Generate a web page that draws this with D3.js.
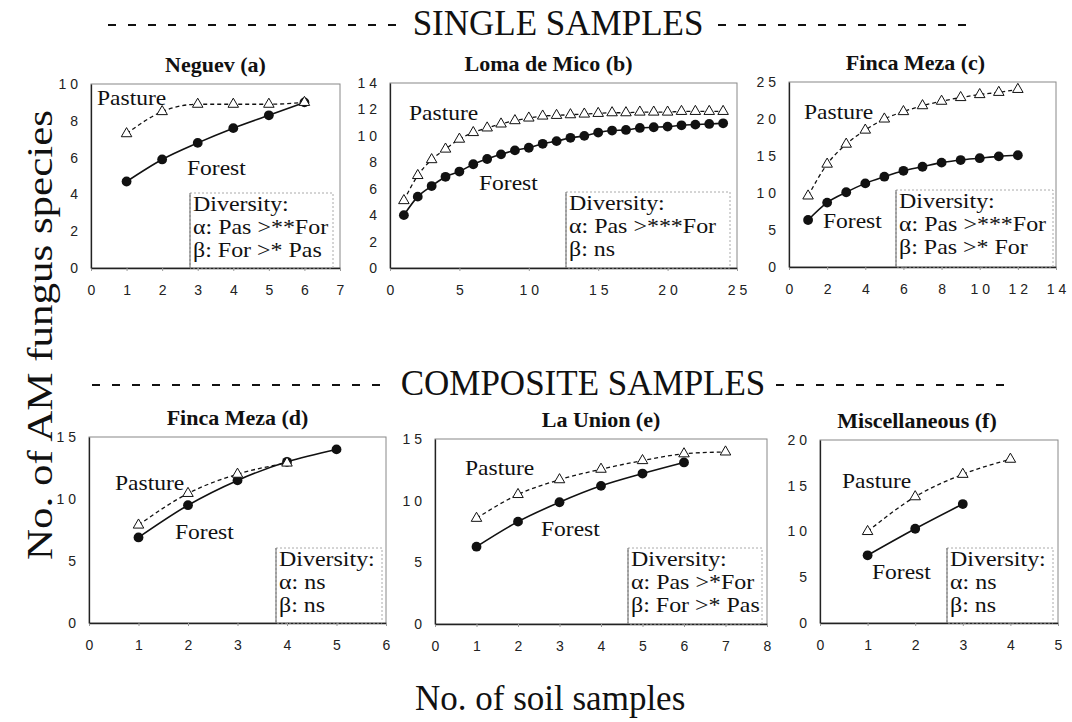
<!DOCTYPE html>
<meta charset="utf-8">
<style>
  body{margin:0;background:#fff;}
  svg text{fill:#111;}
  .tick text{font-family:"Liberation Sans",Arial,sans-serif;font-size:14px;letter-spacing:4px;fill:#222;}
  .lbl{font-family:"Liberation Serif","Times New Roman",Times,serif;}
</style>
<script src="https://cdn.jsdelivr.net/npm/d3@7/dist/d3.min.js"></script>
<body>
<svg id="chart" width="1072" height="722"></svg>
<script>
// ---- data ----
const titles = ["Neguev (a)", "Loma de Mico (b)", "Finca Meza (c)", "Finca Meza (d)", "La Union (e)", "Miscellaneous (f)"];
const xMax = [7, 25, 14, 6, 8, 5];
const yMax = [10, 14, 25, 15, 15, 20];
const xTicks = [[0,1,2,3,4,5,6,7], [0,5,10,15,20,25], [0,2,4,6,8,10,12,14], [0,1,2,3,4,5,6], [0,1,2,3,4,5,6,7,8], [0,1,2,3,4,5]];
const yTicks = [[0,2,4,6,8,10], [0,2,4,6,8,10,12,14], [0,5,10,15,20,25], [0,5,10,15], [0,5,10,15], [0,5,10,15,20]];

const aX = [1,2,3,4,5,6];
const aForest = [4.7, 5.9, 6.8, 7.6, 8.3, 9.0];
const aPasture = [7.3, 8.5, 8.9, 8.9, 8.9, 9.0];

const bX = [1,2,3,4,5,6,7,8,9,10,11,12,13,14,15,16,17,18,19,20,21,22,23,24];
const bForest = [4.0,5.4,6.2,6.9,7.3,7.85,8.25,8.6,8.9,9.1,9.4,9.6,9.85,10.0,10.25,10.4,10.45,10.6,10.65,10.7,10.8,10.85,10.9,10.95];
const bPasture = [5.1,7.0,8.2,9.0,9.75,10.25,10.6,10.9,11.15,11.35,11.5,11.55,11.6,11.65,11.7,11.75,11.75,11.8,11.8,11.8,11.85,11.85,11.85,11.85];

const cX = [1,2,3,4,5,6,7,8,9,10,11,12];
const cForest = [6.35,8.7,10.1,11.3,12.2,13.0,13.55,14.1,14.45,14.7,14.95,15.1];
const cPasture = [9.6,13.9,16.6,18.5,20.0,21.0,21.8,22.4,22.9,23.3,23.6,24.0];

const dForestX = [1,2,3,4,5];
const dForest = [6.9, 9.5, 11.5, 13.0, 14.0];
const dPastureX = [1,2,3,4];
const dPasture = [7.9, 10.45, 12.0, 12.9];

const eForestX = [1,2,3,4,5,6];
const eForest = [6.27, 8.3, 9.87, 11.2, 12.2, 13.1];
const ePastureX = [1,2,3,4,5,6,7];
const ePasture = [8.57, 10.5, 11.7, 12.55, 13.25, 13.8, 13.95];

const fForestX = [1,2,3];
const fForest = [7.4, 10.3, 13.0];
const fPastureX = [1,2,3,4];
const fPasture = [10.0, 13.8, 16.25, 17.9];

const diversity = [
  ["Diversity:", "α: Pas >**For", "β: For >* Pas"],
  ["Diversity:", "α: Pas >***For", "β: ns"],
  ["Diversity:", "α: Pas >***For", "β: Pas >* For"],
  ["Diversity:", "α: ns", "β: ns"],
  ["Diversity:", "α: Pas >*For", "β: For >* Pas"],
  ["Diversity:", "α: ns", "β: ns"]
];

const forestSeries = [
  d3.zip(aX, aForest), d3.zip(bX, bForest), d3.zip(cX, cForest),
  d3.zip(dForestX, dForest), d3.zip(eForestX, eForest), d3.zip(fForestX, fForest)
];
const pastureSeries = [
  d3.zip(aX, aPasture), d3.zip(bX, bPasture), d3.zip(cX, cPasture),
  d3.zip(dPastureX, dPasture), d3.zip(ePastureX, ePasture), d3.zip(fPastureX, fPasture)
];

// ---- layout: plot frames [left, right, top, bottom] ----
const frames = [
  [91, 340, 84, 268], [390, 737, 83, 268], [789, 1056, 82, 267],
  [89, 386, 437, 623], [435, 767, 439, 624], [820, 1058, 440, 623]
];
const titleDx = [0, -15, -7, 0, 0, -22];
// label offsets from plot top-left: [pastureDx, pastureDy, forestDx, forestDy]
const labelPos = [
  [6, 21, 96, 91], [19, 37, 89, 107], [15, 37, 34, 146],
  [26, 53, 86, 102], [30, 36, 106, 97], [22, 48, 52, 139]
];
// diversity box: [left offset, top offset, right inset]
const boxPos = [
  [99, 109, 7], [176, 109, 7], [107, 108, 3],
  [187, 111, 4], [193, 109, 5], [127, 108, 5]
];

const svg = d3.select("#chart");

// serif label, widened a little like the scanned original
function wideText(g, x, y, str, size, sx){
  const t = g.append("text").attr("class", "lbl")
    .attr("x", x).attr("y", y)
    .attr("font-size", size)
    .text(str);
  const w = t.node().getComputedTextLength();
  t.attr("textLength", w * sx).attr("lengthAdjust", "spacingAndGlyphs");
  return t;
}

function drawPanel(i){
  const [L, R, T, B] = frames[i];
  const x = d3.scaleLinear().domain([0, xMax[i]]).range([L, R]);
  const y = d3.scaleLinear().domain([0, yMax[i]]).range([B, T]);
  const g = svg.append("g");

  // frame
  g.append("rect").attr("x", L).attr("y", T).attr("width", R - L).attr("height", B - T)
    .attr("fill", "none").attr("stroke", "#888").attr("stroke-width", 1);

  // axes
  const xa = g.append("g").attr("transform", `translate(0,${B})`)
    .call(d3.axisBottom(x).tickValues(xTicks[i]).tickFormat(d3.format("d"))
      .tickSizeInner(3).tickSizeOuter(0).tickPadding(14));
  xa.selectAll("text").attr("dx", 2);
  const ya = g.append("g").attr("transform", `translate(${L},0)`)
    .call(d3.axisLeft(y).tickValues(yTicks[i]).tickFormat(d3.format("d"))
      .tickSizeInner(0).tickSizeOuter(0).tickPadding(9));
  [xa, ya].forEach(a => {
    a.select(".domain").attr("stroke", "#222").attr("stroke-width", 1.3);
    a.selectAll(".tick line").attr("stroke", "#999");
  });

  // title
  g.append("text").attr("class", "lbl")
    .attr("x", (L + R) / 2 + titleDx[i]).attr("y", T - 12)
    .attr("text-anchor", "middle")
    .attr("font-size", 22).attr("font-weight", "bold")
    .text(titles[i]);

  // diversity box
  const [bl, bt, br] = boxPos[i];
  const bx0 = L + bl, by0 = T + bt, bx1 = R - br;
  g.append("rect").attr("x", bx0).attr("y", by0).attr("width", bx1 - bx0).attr("height", B - by0)
    .attr("fill", "none").attr("stroke", "#aaa").attr("stroke-width", 1).attr("stroke-dasharray", "2,2");
  g.append("line").attr("x1", bx0).attr("x2", bx0).attr("y1", by0).attr("y2", B)
    .attr("stroke", "#666").attr("stroke-width", 1);
  diversity[i].forEach((s, k) => {
    wideText(g, bx0 + 3, by0 + 18 + k * 23, s, 21, 1.14);
  });

  // lines
  const line = d3.line().x(d => x(d[0])).y(d => y(d[1])).curve(d3.curveMonotoneX);
  g.append("path").datum(pastureSeries[i]).attr("d", line)
    .attr("fill", "none").attr("stroke", "#111").attr("stroke-width", 1.3).attr("stroke-dasharray", "4,3");
  g.append("path").datum(forestSeries[i]).attr("d", line)
    .attr("fill", "none").attr("stroke", "#111").attr("stroke-width", 1.6);

  // markers
  g.selectAll(".forest").data(forestSeries[i]).join("circle")
    .attr("class", "forest")
    .attr("cx", d => x(d[0])).attr("cy", d => y(d[1])).attr("r", 4.9)
    .attr("fill", "#111");
  g.selectAll(".pasture").data(pastureSeries[i]).join("path")
    .attr("class", "pasture")
    .attr("transform", d => `translate(${x(d[0])},${y(d[1])})`)
    .attr("d", d3.symbol(d3.symbolTriangle).size(48))
    .attr("fill", "#fff").attr("stroke", "#111").attr("stroke-width", 1);

  // series labels
  const [pdx, pdy, fdx, fdy] = labelPos[i];
  wideText(g, L + pdx, T + pdy, "Pasture", 21, 1.12);
  wideText(g, L + fdx, T + fdy, "Forest", 21, 1.12);
}

titles.forEach((t, i) => drawPanel(i));

// section headers with dashed rules
function header(text, cx, baseline, leftRule, rightRule){
  svg.append("text").attr("class", "lbl")
    .attr("x", cx).attr("y", baseline).attr("text-anchor", "middle")
    .attr("font-size", 35).text(text);
  [leftRule, rightRule].forEach(r => {
    svg.append("line").attr("x1", r[0]).attr("x2", r[1])
      .attr("y1", baseline - 10).attr("y2", baseline - 10)
      .attr("stroke", "#111").attr("stroke-width", 2.2).attr("stroke-dasharray", "8,12");
  });
}
header("SINGLE SAMPLES", 558, 35, [108, 397], [718, 968]);
header("COMPOSITE SAMPLES", 583, 395, [92, 392], [776, 1004]);

// axis titles
svg.append("text").attr("class", "lbl")
  .attr("transform", "translate(52,335) rotate(-90)")
  .attr("text-anchor", "middle")
  .attr("textLength", 450).attr("lengthAdjust", "spacingAndGlyphs")
  .attr("font-size", 35)
  .text("No. of AM fungus species");
svg.append("text").attr("class", "lbl")
  .attr("x", 415).attr("y", 710)
  .attr("font-size", 35)
  .text("No. of soil samples");
</script>
</body>
